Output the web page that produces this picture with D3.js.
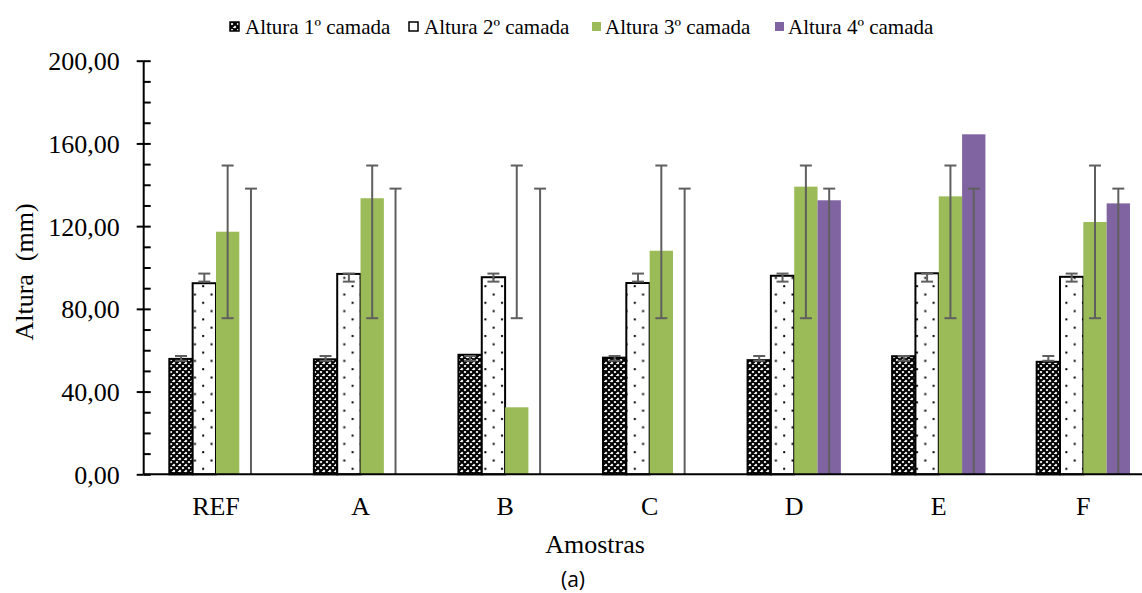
<!DOCTYPE html>
<html>
<head>
<meta charset="utf-8">
<script src="https://cdn.jsdelivr.net/npm/d3@7"></script>
<style>
  html, body { margin: 0; padding: 0; background: #fff; }
  svg { display: block; }
</style>
</head>
<body>
<svg id="chart" width="1142" height="593"></svg>
<script>
// Sample groups and layer heights (mm)
const categories = ["REF", "A", "B", "C", "D", "E", "F"];
const camada1 = [55.8, 55.6, 57.8, 56.4, 55.2, 57.1, 54.4];
const camada2 = [92.4, 96.9, 95.3, 92.5, 96.0, 97.2, 95.5];
const camada3 = [117.3, 133.5, 32.4, 108.1, 139.1, 134.4, 122.0];
const camada4 = [0, 0, 0, 0, 132.5, 164.4, 131.0];
const seriesNames = ["Altura 1º camada", "Altura 2º camada", "Altura 3º camada", "Altura 4º camada"];
const yTicks = [0, 40, 80, 120, 160, 200];
const yMinorTicks = d3.range(0, 201, 10);

const seriesValues = [camada1, camada2, camada3, camada4];
const fills = ["url(#hatchCross)", "url(#dots)", "#9BBB59", "#8064A2"];
const outlined = [true, true, false, false];
const SERIF = '"Liberation Serif", "Times New Roman", Times, serif';

const svg = d3.select("#chart");
const defs = svg.append("defs");

// Dense cross-hatch fill for the first layer
const p1 = defs.append("pattern").attr("id", "hatchCross")
  .attr("patternUnits", "userSpaceOnUse").attr("width", 6).attr("height", 6);
p1.append("rect").attr("width", 6).attr("height", 6).attr("fill", "#fff");
p1.append("path").attr("d", "M0,0L6,6M6,0L0,6M-1,5L1,7M5,-1L7,1M-1,1L1,-1M5,7L7,5")
  .attr("stroke", "#000").attr("stroke-width", 2.2);

// Sparse dotted fill for the second layer
const p2 = defs.append("pattern").attr("id", "dots")
  .attr("patternUnits", "userSpaceOnUse").attr("width", 16.6).attr("height", 16.6);
p2.append("rect").attr("width", 16.6).attr("height", 16.6).attr("fill", "#fff");
p2.append("rect").attr("x", 3).attr("y", 3).attr("width", 2).attr("height", 2).attr("fill", "#000");
p2.append("rect").attr("x", 11.3).attr("y", 11.3).attr("width", 2).attr("height", 2).attr("fill", "#000");

const x0 = 143.7, x1 = 1155.6;
const y = d3.scaleLinear().domain([0, 200]).range([474.3, 60.7]);
const x = d3.scaleBand().domain(categories).range([x0, x1])
  .paddingInner(0.3545).paddingOuter(0.3545 / 2);
const xs = d3.scaleBand().domain(d3.range(4)).range([0, x.bandwidth()]);

// Bars
seriesValues.forEach((vals, si) => {
  svg.append("g").selectAll("rect")
    .data(vals.map((v, i) => ({ c: categories[i], v })))
    .join("rect")
    .attr("x", d => x(d.c) + xs(si))
    .attr("y", d => y(d.v))
    .attr("width", xs.bandwidth())
    .attr("height", d => y(0) - y(d.v))
    .attr("fill", fills[si])
    .attr("stroke", outlined[si] ? "#000" : "none")
    .attr("stroke-width", outlined[si] ? 2 : 0)
    .attr("display", d => d.v > 0 ? null : "none");
});

// Error bars: series mean ± one standard deviation
const capW = 12;
seriesValues.forEach((vals, si) => {
  const m = d3.mean(vals), sd = d3.deviation(vals);
  const hi = Math.min(200, m + sd), lo = Math.max(0, m - sd);
  const g = svg.append("g").attr("stroke", "#5f5f5f").attr("stroke-width", 2).attr("fill", "none");
  categories.forEach(c => {
    const cx = x(c) + xs(si) + xs.bandwidth() / 2;
    g.append("line").attr("x1", cx).attr("x2", cx).attr("y1", y(hi)).attr("y2", y(lo));
    g.append("line").attr("x1", cx - capW / 2).attr("x2", cx + capW / 2).attr("y1", y(hi)).attr("y2", y(hi));
    if (lo > 0) {
      g.append("line").attr("x1", cx - capW / 2).attr("x2", cx + capW / 2).attr("y1", y(lo)).attr("y2", y(lo));
    }
  });
});

// X axis baseline and category labels
svg.append("line").attr("x1", x0).attr("x2", 1142).attr("y1", y(0)).attr("y2", y(0))
  .attr("stroke", "#000").attr("stroke-width", 2);
svg.append("g").selectAll("text").data(categories).join("text")
  .style("font-family", SERIF).style("font-size", "26px").attr("fill", "#000")
  .attr("x", d => x(d) + x.bandwidth() / 2)
  .attr("y", 515)
  .attr("text-anchor", "middle")
  .text(d => d);

// Y axis: labelled major ticks on the left, minor ticks on the right
const fmt = d => d3.format(".2f")(d).replace(".", ",");
const yAxis = svg.append("g").attr("transform", `translate(${x0},0)`)
  .call(d3.axisLeft(y).tickValues(yTicks).tickFormat(fmt).tickSize(7).tickPadding(17));
yAxis.select(".domain").remove();
yAxis.selectAll(".tick line").attr("stroke", "#000").attr("stroke-width", 2);
yAxis.selectAll(".tick text")
  .style("font-family", SERIF).style("font-size", "26px")
  .attr("fill", "#000").attr("dy", "0.35em");

const yMinor = svg.append("g").attr("transform", `translate(${x0},0)`)
  .call(d3.axisRight(y).tickValues(yMinorTicks).tickFormat("").tickSize(7));
yMinor.select(".domain").remove();
yMinor.selectAll(".tick line").attr("stroke", "#000").attr("stroke-width", 2);

svg.append("line").attr("x1", x0).attr("x2", x0).attr("y1", y(200)).attr("y2", y(0))
  .attr("stroke", "#000").attr("stroke-width", 2);

// Axis titles
svg.append("text")
  .style("font-family", SERIF).style("font-size", "26px").style("white-space", "pre")
  .attr("fill", "#000")
  .attr("transform", "translate(33,272) rotate(-90)")
  .attr("text-anchor", "middle")
  .text("Altura\u00A0 (mm)");

svg.append("text")
  .style("font-family", SERIF).style("font-size", "26px").attr("fill", "#000")
  .attr("x", 595).attr("y", 553)
  .attr("text-anchor", "middle")
  .text("Amostras");

svg.append("text")
  .attr("x", 573).attr("y", 587)
  .attr("text-anchor", "middle")
  .style("font-family", '"Open Sans", "Noto Sans", sans-serif')
  .style("font-size", "21px").attr("fill", "#000")
  .text("(a)");

// Legend
const legendX = [229, 408, 592, 775];
const legend = svg.append("g");
seriesNames.forEach((name, i) => {
  const g = legend.append("g").attr("transform", `translate(${legendX[i]},0)`);
  if (outlined[i]) {
    g.append("rect").attr("x", 1).attr("y", 22).attr("width", 9).attr("height", 9)
      .attr("fill", fills[i]).attr("stroke", "#000").attr("stroke-width", 1.5);
  } else {
    g.append("rect").attr("x", 0).attr("y", 22).attr("width", 9).attr("height", 9)
      .attr("fill", fills[i]);
  }
  g.append("text")
    .style("font-family", SERIF).style("font-size", "21px").attr("fill", "#000")
    .attr("x", outlined[i] ? 16 : 13).attr("y", 34)
    .text(name);
});
</script>
</body>
</html>
